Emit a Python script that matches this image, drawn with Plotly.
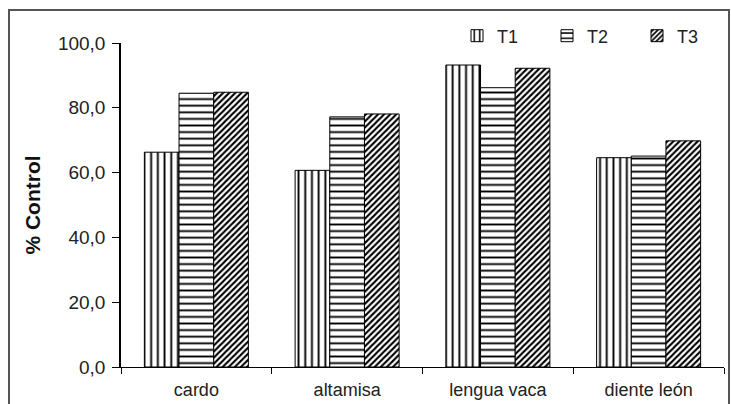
import plotly.graph_objects as go

categories = ["cardo", "altamisa", "lengua vaca", "diente león"]
series_names = ["T1", "T2", "T3"]
t1_values = [66.3, 60.7, 93.2, 64.6]
t2_values = [84.5, 77.2, 86.2, 65.1]
t3_values = [84.8, 78.1, 92.2, 69.8]
y_tick_vals = [0, 20, 40, 60, 80, 100]
y_tick_text = ["0,0", "20,0", "40,0", "60,0", "80,0", "100,0"]

W, H = 731, 404
L, R, T, B = 121, 7, 43, 37
pw, ph = W - L - R, H - T - B

patterns = [
    dict(shape="|", size=6.7, solidity=0.28, fgcolor="black", bgcolor="white", fillmode="replace"),
    dict(shape="-", size=6.6, solidity=0.28, fgcolor="black", bgcolor="white", fillmode="replace"),
    dict(shape="/", size=4.3, solidity=0.48, fgcolor="black", bgcolor="white", fillmode="replace"),
]

fig = go.Figure()
for name, vals, pat in zip(series_names, [t1_values, t2_values, t3_values], patterns):
    fig.add_trace(go.Bar(
        x=categories, y=vals, name=name,
        marker=dict(color="white", pattern=pat, line=dict(color="black", width=1)),
    ))

def px_x(p):
    return (p - L) / pw

def px_y(p):
    return 1 - (p - T) / ph

fig.add_shape(type="rect", xref="paper", yref="paper",
              x0=px_x(9), x1=px_x(729), y0=px_y(420), y1=px_y(10),
              line=dict(color="#555", width=2), layer="above")

fig.update_layout(
    width=W, height=H,
    margin=dict(l=L, r=R, t=T, b=B, pad=0, autoexpand=False),
    paper_bgcolor="white", plot_bgcolor="white",
    barmode="group", bargap=0.31, bargroupgap=0,
    font=dict(family="Liberation Sans, Arial, sans-serif", size=17, color="#222"),
    showlegend=True,
    legend=dict(orientation="h", x=px_x(457), xanchor="left", y=px_y(36), yanchor="middle",
                entrywidth=45, entrywidthmode="pixels", bgcolor="rgba(0,0,0,0)",
                font=dict(size=18, color="#222"), traceorder="normal"),
    xaxis=dict(showline=True, linecolor="black", linewidth=1, ticks="outside", ticklen=6,
               tickcolor="black", tickson="boundaries", showgrid=False, zeroline=False,
               tickfont=dict(size=18, color="#222"), ticklabelstandoff=6, automargin=False),
    yaxis=dict(range=[0, 100], showline=True, linecolor="black", linewidth=1.5,
               ticks="outside", ticklen=7, tickcolor="black", tickvals=y_tick_vals,
               ticktext=y_tick_text, showgrid=False, zeroline=False, automargin=False,
               tickfont=dict(size=19, color="#222"), ticklabelstandoff=3,
               title=dict(text="<b>% Control</b>", font=dict(size=21, color="#111"), standoff=12)),
)

fig.write_html("out.html")
